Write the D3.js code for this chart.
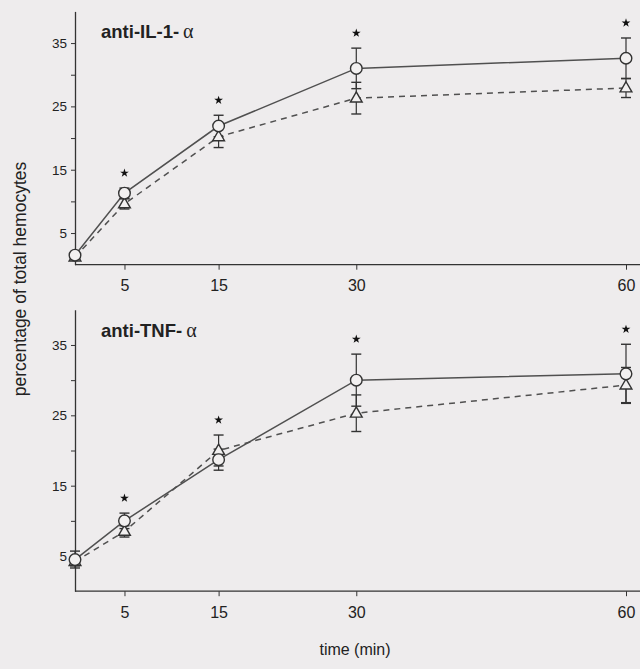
<!DOCTYPE html>
<html>
<head>
<meta charset="utf-8">
<script src="https://cdn.jsdelivr.net/npm/d3@7"></script>
<style>
  html, body { margin: 0; padding: 0; background: #eeeced; }
  svg { display: block; }
  text { font-family: "Liberation Sans", Arial, Helvetica, sans-serif; fill: #222; }
</style>
</head>
<body>
<script>
// ---- data ----
const times = [0, 5, 15, 30, 60];
const xTickValues = [5, 15, 30, 60];
const yTickValues = [5, 10, 15, 20, 25, 30, 35];
const yTickLabels = [5, 15, 25, 35];

const panelTitles = ["anti-IL-1-", "anti-TNF-"];

// panel 1: anti-IL-1-α
const il1Circle    = [1.5, 11.3, 21.9, 31.0, 32.6];
const il1CircleErr = [0.4, 0.8, 1.7, 3.2, 3.2];
const il1Tri       = [1.2, 9.6, 20.2, 26.3, 27.9];
const il1TriErr    = [0.4, 0.8, 1.7, 2.5, 1.5];
const il1Stars     = [false, true, true, true, true];

// panel 2: anti-TNF-α
const tnfCircle    = [4.5, 10.0, 18.7, 30.0, 30.9];
const tnfCircleErr = [1.2, 1.1, 1.5, 3.7, 4.2];
const tnfTri       = [4.2, 8.5, 20.0, 25.3, 29.3];
const tnfTriErr    = [0.6, 0.8, 2.2, 2.6, 2.5];
const tnfStars     = [false, true, true, true, true];

const yLabel = "percentage of total hemocytes";
const xLabel = "time (min)";

// ---- layout ----
const W = 640, H = 669;
const svg = d3.select("body").append("svg").attr("width", W).attr("height", H);
svg.append("rect").attr("width", W).attr("height", H).attr("fill", "#eeeced");

const x = d3.scalePow().exponent(0.97).domain([0, 60]).range([75, 626]);

const panels = [
  { title: panelTitles[0], circle: il1Circle, cErr: il1CircleErr, tri: il1Tri, tErr: il1TriErr, stars: il1Stars,
    y: d3.scaleLinear().domain([0, 40]).range([264.7, 11.4]), titleY: 38 },
  { title: panelTitles[1], circle: tnfCircle, cErr: tnfCircleErr, tri: tnfTri, tErr: tnfTriErr, stars: tnfStars,
    y: d3.scaleLinear().domain([0, 40]).range([591.2, 309.8]), titleY: 337 }
];

const ink = "#333";
const lineInk = "#505050";

panels.forEach(p => {
  const g = svg.append("g");
  const y = p.y;

  // y axis
  const yAxis = d3.axisLeft(y).tickValues(yTickValues).tickSize(4).tickSizeOuter(0)
    .tickFormat(d => yTickLabels.includes(d) ? d : "");
  const ya = g.append("g").attr("transform", `translate(${x(0)},0)`).call(yAxis);
  ya.select(".domain").attr("stroke", ink).attr("stroke-width", 1.3);
  ya.selectAll(".tick line").attr("stroke", ink).attr("stroke-width", 1);
  ya.selectAll(".tick text").attr("font-size", 13.5).attr("x", -8)
    .attr("font-family", "Liberation Sans, Arial, sans-serif").attr("fill", "#222");

  // x axis
  const xAxis = d3.axisBottom(x).tickValues(xTickValues).tickSize(5).tickSizeOuter(0).tickPadding(10);
  const xa = g.append("g").attr("transform", `translate(0,${y(0)})`).call(xAxis);
  xa.select(".domain").remove();
  xa.append("line").attr("x1", x(0)).attr("x2", W).attr("y1", 0).attr("y2", 0)
    .attr("stroke", ink).attr("stroke-width", 1.3);
  xa.selectAll(".tick line").attr("stroke", ink).attr("stroke-width", 1);
  xa.selectAll(".tick text").attr("font-size", 16)
    .attr("font-family", "Liberation Sans, Arial, sans-serif").attr("fill", "#222");

  // title
  const t = g.append("text").attr("x", 101).attr("y", p.titleY)
    .attr("font-size", 18.5).attr("font-weight", "bold");
  t.append("tspan").text(p.title);
  t.append("tspan").attr("font-family", "Liberation Serif, 'DejaVu Serif', serif")
    .attr("font-weight", "normal").attr("font-size", 20).attr("dx", 4).text("α");

  const circ = times.map((t, i) => ({ t, v: p.circle[i], e: p.cErr[i], star: p.stars[i] }));
  const tri = times.map((t, i) => ({ t, v: p.tri[i], e: p.tErr[i] }));

  const line = d3.line().x(d => x(d.t)).y(d => y(d.v));

  // lines
  g.append("path").datum(tri).attr("d", line).attr("fill", "none")
    .attr("stroke", lineInk).attr("stroke-width", 1.5).attr("stroke-dasharray", "6,5");
  g.append("path").datum(circ).attr("d", line).attr("fill", "none")
    .attr("stroke", lineInk).attr("stroke-width", 1.5);

  // error bars
  const drawErr = (data) => {
    const eg = g.append("g").selectAll("g").data(data).join("g");
    eg.append("line").attr("x1", d => x(d.t)).attr("x2", d => x(d.t))
      .attr("y1", d => y(d.v - d.e)).attr("y2", d => y(d.v + d.e))
      .attr("stroke", ink).attr("stroke-width", 1.2);
    [-1, 1].forEach(s => {
      eg.append("line").attr("x1", d => x(d.t) - 5).attr("x2", d => x(d.t) + 5)
        .attr("y1", d => y(d.v + s * d.e)).attr("y2", d => y(d.v + s * d.e))
        .attr("stroke", ink).attr("stroke-width", 1.4);
    });
  };
  drawErr(tri);
  drawErr(circ);

  // triangle markers
  g.append("g").selectAll("path").data(tri).join("path")
    .attr("d", d3.symbol(d3.symbolTriangle, 60))
    .attr("transform", d => `translate(${x(d.t)},${y(d.v) + 0.5})`)
    .attr("fill", "#f2f0f0").attr("stroke", ink).attr("stroke-width", 1.4);

  // circle markers
  g.append("g").selectAll("circle").data(circ).join("circle")
    .attr("cx", d => x(d.t)).attr("cy", d => y(d.v)).attr("r", 5.8)
    .attr("fill", "#f2f0f0").attr("stroke", ink).attr("stroke-width", 1.4);

  // significance stars
  const starData = circ.map((d, i) => ({ t: d.t, top: Math.max(d.v + d.e, tri[i].v + tri[i].e), star: d.star }))
    .filter(d => d.star);
  g.append("g").selectAll("path").data(starData).join("path")
    .attr("d", d3.symbol(d3.symbolStar, 24))
    .attr("transform", d => `translate(${x(d.t)},${y(d.top) - 15})`)
    .attr("fill", "#111");
});

// axis titles
svg.append("text").attr("transform", "translate(26,279) rotate(-90)")
  .attr("text-anchor", "middle").attr("font-size", 17.5).text(yLabel);
svg.append("text").attr("x", 355).attr("y", 655)
  .attr("text-anchor", "middle").attr("font-size", 16).text(xLabel);
</script>
</body>
</html>
